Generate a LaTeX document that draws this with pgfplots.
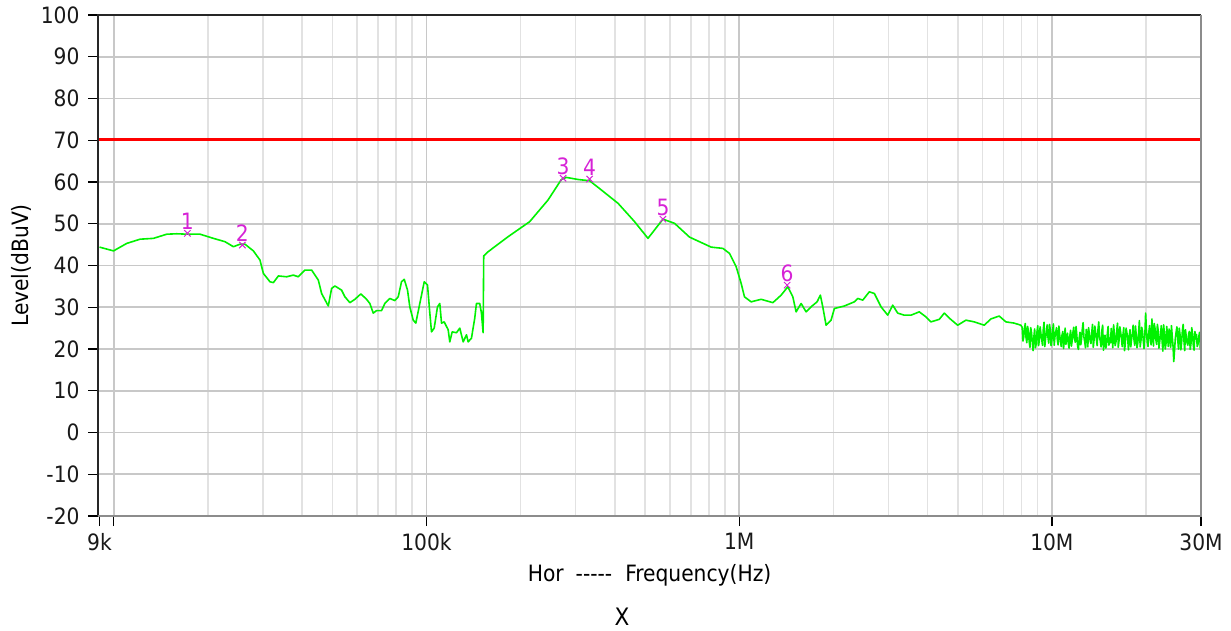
\documentclass[border=0pt]{standalone}
\usepackage{pgfplots}
\pgfplotsset{compat=1.18}
\usepackage{pgfplotstable}
\usepackage{fontspec}
\setmainfont{DejaVu Sans Condensed}
\definecolor{trace}{RGB}{0,242,0}
\definecolor{mk}{RGB}{214,34,214}
\definecolor{gmaj}{RGB}{200,200,200}
\definecolor{gmin}{RGB}{226,226,226}
\definecolor{lim}{RGB}{255,0,0}
% lf = log10(frequency in Hz), lv = level in dBuV
\pgfplotstableread{
lf lv
3.9542 44.4
3.9990 43.5
4.0415 45.3
4.0840 46.3
4.1268 46.5
4.1693 47.5
4.2013 47.6
4.2332 47.5
4.2757 47.5
4.3185 46.5
4.3556 45.7
4.3824 44.5
4.4035 45.1
4.4195 45.1
4.4463 43.5
4.4674 41.3
4.4783 38.1
4.4994 36.1
4.5102 35.9
4.5262 37.5
4.5527 37.3
4.5741 37.7
4.5901 37.3
4.6112 38.9
4.6326 38.9
4.6540 36.5
4.6645 33.3
4.6859 30.3
4.6965 34.5
4.7070 35.1
4.7284 34.1
4.7390 32.5
4.7550 31.1
4.7709 31.9
4.7901 33.2
4.8083 31.9
4.8188 30.9
4.8297 28.6
4.8403 29.2
4.8562 29.2
4.8668 30.9
4.8827 32.1
4.8987 31.6
4.9096 32.5
4.9201 36.1
4.9288 36.7
4.9393 34.1
4.9466 30.1
4.9575 26.9
4.9658 26.2
4.9786 30.9
4.9927 36.1
5.0032 35.3
5.0106 28.6
5.0160 24.1
5.0246 25.0
5.0351 30.1
5.0425 30.9
5.0480 26.2
5.0565 26.5
5.0693 24.6
5.0744 21.7
5.0821 24.1
5.0958 23.9
5.1064 25.0
5.1173 21.7
5.1278 23.4
5.1332 21.7
5.1438 22.6
5.1543 27.4
5.1597 30.9
5.1703 30.9
5.1757 28.6
5.1811 23.9
5.1830 42.3
5.1971 43.3
5.2610 46.9
5.3300 50.5
5.3888 55.7
5.4313 60.6
5.4473 61.1
5.4847 60.6
5.5217 60.3
5.5591 58.1
5.6125 54.9
5.6655 50.5
5.7083 46.5
5.7562 51.1
5.7933 50.1
5.8412 46.8
5.9105 44.4
5.9479 44.1
5.9690 42.9
5.9904 39.7
6.0064 35.7
6.0169 32.5
6.0383 31.3
6.0703 31.9
6.1077 31.1
6.1342 32.9
6.1556 34.9
6.1716 32.5
6.1821 28.9
6.1981 30.9
6.2141 28.9
6.2300 30.1
6.2492 31.3
6.2597 32.9
6.2674 30.1
6.2780 25.7
6.2939 26.9
6.3045 29.7
6.3364 30.3
6.3684 31.3
6.3792 32.1
6.3952 31.7
6.4163 33.7
6.4323 33.3
6.4537 30.1
6.4751 28.1
6.4911 30.5
6.5070 28.6
6.5281 28.1
6.5495 28.1
6.5760 28.9
6.5974 27.7
6.6134 26.5
6.6399 27.1
6.6559 28.6
6.6719 27.4
6.6987 25.7
6.7252 26.9
6.7518 26.5
6.7837 25.7
6.8051 27.2
6.8316 27.9
6.8530 26.5
6.8796 26.2
6.9010 25.7
6.9050 25.2
6.9075 21.9
6.9100 22.8
6.9125 25.0
6.9150 26.1
6.9175 22.7
6.9200 21.5
6.9225 25.4
6.9250 24.3
6.9275 21.8
6.9300 20.4
6.9325 25.1
6.9350 23.9
6.9375 21.7
6.9400 19.6
6.9425 22.9
6.9450 24.8
6.9475 20.3
6.9500 21.2
6.9525 24.1
6.9550 25.6
6.9575 20.8
6.9600 22.0
6.9625 25.3
6.9650 23.7
6.9675 22.4
6.9700 20.9
6.9725 24.6
6.9750 26.4
6.9775 20.6
6.9800 22.5
6.9825 24.0
6.9850 25.8
6.9875 22.9
6.9900 21.4
6.9925 25.9
6.9950 24.6
6.9975 20.8
7.0000 22.1
7.0025 24.4
7.0050 26.0
7.0075 20.9
7.0100 23.0
7.0125 24.1
7.0150 25.1
7.0175 22.2
7.0200 21.0
7.0225 25.5
7.0250 23.4
7.0275 21.9
7.0300 20.6
7.0325 23.3
7.0350 24.2
7.0375 20.1
7.0400 22.3
7.0425 25.0
7.0450 21.1
7.0475 22.8
7.0500 23.8
7.0525 21.4
7.0550 20.2
7.0575 23.1
7.0600 24.5
7.0625 20.7
7.0650 22.0
7.0675 24.0
7.0700 25.2
7.0725 22.5
7.0750 21.6
7.0775 25.4
7.0800 23.1
7.0825 20.6
7.0850 19.9
7.0875 22.6
7.0900 24.0
7.0925 21.0
7.0950 22.4
7.0975 24.8
7.1000 26.3
7.1025 22.9
7.1050 21.8
7.1075 20.3
7.1100 24.7
7.1125 23.2
7.1150 20.5
7.1175 25.1
7.1200 23.6
7.1225 22.0
7.1250 21.3
7.1275 23.8
7.1300 25.9
7.1325 20.4
7.1350 22.2
7.1375 25.5
7.1400 24.1
7.1425 22.3
7.1450 20.8
7.1475 24.6
7.1500 26.5
7.1525 22.8
7.1550 21.9
7.1575 20.5
7.1600 24.4
7.1625 25.7
7.1650 19.7
7.1675 22.1
7.1700 23.3
7.1725 20.2
7.1750 21.0
7.1775 23.7
7.1800 25.4
7.1825 20.9
7.1850 22.6
7.1875 21.5
7.1900 24.9
7.1925 22.8
7.1950 20.3
7.1975 25.8
7.2000 23.5
7.2025 20.8
7.2050 21.7
7.2075 24.3
7.2100 26.2
7.2125 20.4
7.2150 22.1
7.2175 25.3
7.2200 24.0
7.2225 22.7
7.2250 20.6
7.2275 23.4
7.2300 25.1
7.2325 19.6
7.2350 21.4
7.2375 25.0
7.2400 23.9
7.2425 22.6
7.2450 19.8
7.2475 23.1
7.2500 24.6
7.2525 20.5
7.2550 22.3
7.2575 23.6
7.2600 25.7
7.2625 22.4
7.2650 20.9
7.2675 25.5
7.2700 23.2
7.2725 20.3
7.2750 21.5
7.2775 23.9
7.2800 26.8
7.2825 20.5
7.2850 22.0
7.2875 25.2
7.2900 24.3
7.2925 21.9
7.2950 20.1
7.2975 23.3
7.3000 28.6
7.3025 24.7
7.3050 21.6
7.3075 20.6
7.3100 23.8
7.3125 25.6
7.3150 22.4
7.3175 21.0
7.3200 27.2
7.3225 23.5
7.3250 20.7
7.3275 26.1
7.3300 24.9
7.3325 22.3
7.3350 21.1
7.3375 25.9
7.3400 24.5
7.3425 20.2
7.3450 21.8
7.3475 23.5
7.3500 25.6
7.3525 22.1
7.3550 19.5
7.3575 25.8
7.3600 23.7
7.3625 20.0
7.3650 21.2
7.3675 25.4
7.3700 22.9
7.3725 20.6
7.3750 24.8
7.3775 22.5
7.3800 20.4
7.3825 25.6
7.3850 23.1
7.3875 20.8
7.3900 17.0
7.3925 19.8
7.3950 22.6
7.3975 24.1
7.4000 25.3
7.4025 22.4
7.4050 20.0
7.4075 25.0
7.4100 23.4
7.4125 19.8
7.4150 21.5
7.4175 24.4
7.4200 25.9
7.4225 22.0
7.4250 19.6
7.4275 24.6
7.4300 22.8
7.4325 21.5
7.4350 20.9
7.4375 23.7
7.4400 24.2
7.4425 19.9
7.4450 21.3
7.4475 25.1
7.4500 23.6
7.4525 20.8
7.4550 19.7
7.4575 24.2
7.4600 22.4
7.4625 23.5
7.4650 20.6
7.4675 21.2
7.4700 23.0
7.4725 24.0
7.4750 19.9
7.4771 21.0
}\tracedata
\pgfplotstableread{
lf lv lab
4.2354 47.7 1
4.4112 44.9 2
5.4367 60.9 3
5.5217 60.7 4
5.7562 51.1 5
6.1534 35.3 6
}\markdata
\newcommand{\bigf}{\fontsize{22.5}{27}\selectfont}
\begin{document}
\begin{tikzpicture}
\path[use as bounding box] (0pt,0pt) rectangle (1231pt,-631pt);
\begin{axis}[
  at={(98pt,-15pt)}, anchor=north west,
  scale only axis, width=1103pt, height=501pt,
  xmode=log, xmin=8900, xmax=3e7, ymin=-20, ymax=100,
  ytick={-20,-10,...,100},
  xtick={9000,10000,100000,1000000,10000000,30000000},
  xticklabels={9k,,100k,1M,10M,30M},
  minor xtick={20000,30000,40000,50000,60000,70000,80000,90000,
    200000,300000,400000,500000,600000,700000,800000,900000,
    2000000,3000000,4000000,5000000,6000000,7000000,8000000,9000000,
    20000000},
  extra x ticks={10000,100000,1000000,10000000},
  extra x tick labels={},
  extra x tick style={xmajorgrids=true, major tick length=0pt},
  ymajorgrids, xminorgrids,
  major grid style={gmaj, line width=1.8pt},
  minor grid style={gmin, line width=1.6pt},
  tick align=outside, xtick pos=bottom, ytick pos=left,
  major tick length=10pt, minor tick length=0pt,
  tick style={black, line width=1.3pt},
  axis line style={draw=none},
  /pgf/number format/assume math mode=true,
  yticklabel={\pgfmathprintnumber{\tick}},
  tick label style={font=\bigf, text=black!90},
  yticklabel style={xshift=-5pt},
  xticklabel style={yshift=-4pt},
  xlabel={Hor\hspace{12pt}-{}-{}-{}-{}-\hspace{13pt}Frequency(Hz)},
  ylabel={Level(dBuV)},
  xlabel style={font=\bigf, at={(axis description cs:0.5,-0.1178)}, anchor=center},
  ylabel style={font=\bigf, at={(axis description cs:-0.0698,0.5)}, anchor=center, rotate=0},
  clip mode=individual,
]
\addplot[lim, line width=2.6pt] coordinates {(8900,70.2) (3e7,70.2)};
\addplot[trace, line width=1.6pt, line join=round] table[x expr={10^(\thisrow{lf})}, y=lv] {\tracedata};
\addplot[only marks, mark=x, mark size=4.5pt, mk, mark options={line width=1pt},
  nodes near coords, point meta=explicit symbolic,
  nodes near coords style={font=\bigf, text=mk, anchor=south, inner sep=1pt, yshift=2pt}]
  table[x expr={10^(\thisrow{lf})}, y=lv, meta=lab] {\markdata};
\draw[black!85, line width=1.8pt] (rel axis cs:0,0) -- (rel axis cs:0,1) -- (rel axis cs:1,1);
\draw[black!45, line width=1.8pt] (rel axis cs:0,0) -- (rel axis cs:1,0) -- (rel axis cs:1,1);
\node[font=\fontsize{24}{28}\selectfont, anchor=center] at (axis description cs:0.475,-0.2016) {X};
\end{axis}
\end{tikzpicture}
\end{document}
